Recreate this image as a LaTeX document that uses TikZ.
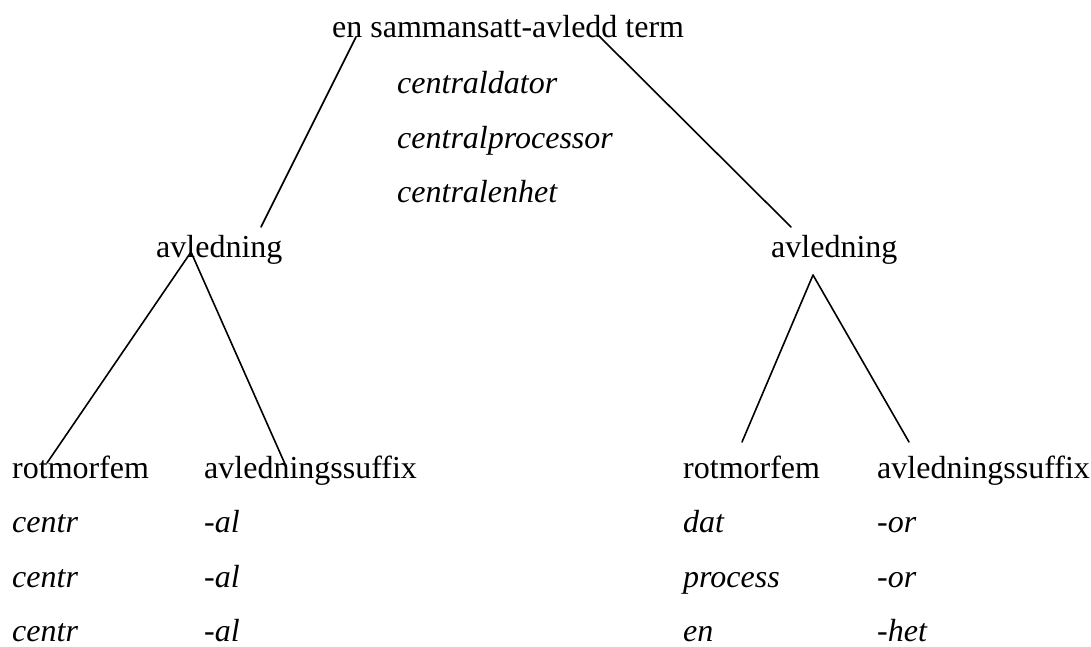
\documentclass[tikz,border=0pt]{standalone}
\usepackage{fontspec}
\setmainfont{Liberation Serif}
\begin{document}
\begin{tikzpicture}[x=1pt,y=-1pt,
  lbl/.style={anchor=base west,inner sep=0pt,font=\fontsize{32}{38}\selectfont},
  ex/.style={lbl,font=\fontsize{32}{38}\selectfont\itshape},
  branch/.style={line width=1.6pt,line cap=round}]
\useasboundingbox (0,0) rectangle (1091,646);

% root and its examples
\node[lbl] (root) at (332,37) {en sammansatt-avledd term};
\node[ex] (ex1) at (397,93) {centraldator};
\node[ex] (ex2) at (397,148) {centralprocessor};
\node[ex] (ex3) at (397,202) {centralenhet};

% derivation nodes
\node[lbl] (avlL) at (156,257) {avledning};
\node[lbl] (avlR) at (771,257) {avledning};

% left leaves
\node[lbl] (rotL) at (12,478) {rotmorfem};
\node[lbl] (sufL) at (204,478) {avledningssuffix};
\node[ex] (rL1) at (12,532) {centr};
\node[ex] (rL2) at (12,587) {centr};
\node[ex] (rL3) at (12,641) {centr};
\node[ex] (sL1) at (204,532) {-al};
\node[ex] (sL2) at (204,587) {-al};
\node[ex] (sL3) at (204,641) {-al};

% right leaves
\node[lbl] (rotR) at (683,478) {rotmorfem};
\node[lbl] (sufR) at (877,478) {avledningssuffix};
\node[ex] (rR1) at (683,532) {dat};
\node[ex] (rR2) at (683,587) {process};
\node[ex] (rR3) at (683,641) {en};
\node[ex] (sR1) at (877,532) {-or};
\node[ex] (sR2) at (877,587) {-or};
\node[ex] (sR3) at (877,641) {-het};

% branch end points
\coordinate (rootA) at (356,37);
\coordinate (rootB) at (598,35);
\coordinate (avlLtop) at (261,227);
\coordinate (avlRtop) at (791,227);
\coordinate (avlLapex) at (191,252);
\coordinate (rotLtop) at (47,463);
\coordinate (sufLtop) at (285,464);
\coordinate (avlRapex) at (813,275);
\coordinate (rotRtop) at (742,442);
\coordinate (sufRtop) at (909,442);

% branches
\draw[branch] (rootA) -- (avlLtop);
\draw[branch] (rootB) -- (avlRtop);
\draw[branch] (avlLapex) -- (rotLtop);
\draw[branch] (avlLapex) -- (sufLtop);
\draw[branch] (avlRapex) -- (rotRtop);
\draw[branch] (avlRapex) -- (sufRtop);
\end{tikzpicture}
\end{document}
